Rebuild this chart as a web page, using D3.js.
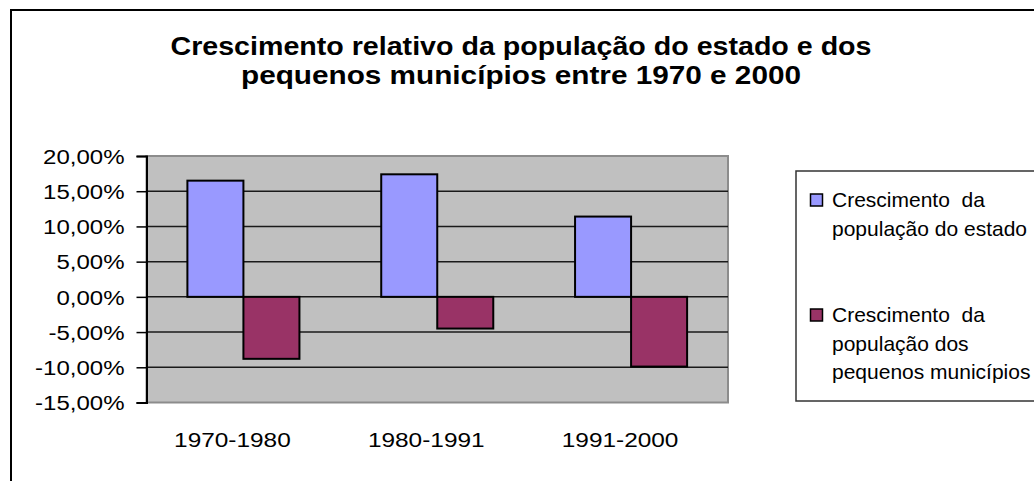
<!DOCTYPE html>
<html>
<head>
<meta charset="utf-8">
<script src="https://cdn.jsdelivr.net/npm/d3@7"></script>
<style>
  html, body { margin: 0; padding: 0; background: #fff; }
  svg { display: block; font-family: "Liberation Sans", Arial, sans-serif; }
  .legend text { white-space: pre; }
</style>
</head>
<body>
<svg id="chart" width="1034" height="481"></svg>
<script>
const categories = ['1970-1980', '1980-1991', '1991-2000'];
const seriesNames = [
  ['Crescimento  da', 'população do estado'],
  ['Crescimento  da', 'população dos', 'pequenos municípios']
];
const stateGrowth = [0.165, 0.174, 0.114];
const smallTownGrowth = [-0.088, -0.045, -0.099];
const yTicks = [-0.15, -0.10, -0.05, 0, 0.05, 0.10, 0.15, 0.20];
const titleLines = [
  'Crescimento relativo da população do estado e dos',
  'pequenos municípios entre 1970 e 2000'
];

const colors = ['#9999ff', '#993366'];
const [plotL, plotR, plotT, plotB] = [146.5, 728, 156, 402.5];

const ptBR = d3.formatLocale({
  decimal: ',', thousands: '.', grouping: [3], currency: ['R$', ''], minus: '-'
});
const pct = ptBR.format('.2%');

// stretch text horizontally, the way the original export did
let stretch = (sel, k) => sel.each(function() {
  const w = this.getComputedTextLength();
  d3.select(this)
      .attr('textLength', w * k)
      .attr('lengthAdjust', 'spacingAndGlyphs');
});

const svg = d3.select('#chart');

// outer chart frame
svg.append('rect')
    .attr('x', 11).attr('y', 10)
    .attr('width', 1200).attr('height', 600)
    .attr('fill', '#fff')
    .attr('stroke', '#000')
    .attr('stroke-width', 2);

// title
svg.append('g')
    .attr('class', 'title')
  .selectAll('text')
  .data(titleLines)
  .join('text')
    .attr('x', 521)
    .attr('y', (d, i) => 55 + i * 28.5)
    .attr('text-anchor', 'middle')
    .attr('font-size', 26)
    .attr('font-weight', 'bold')
    .attr('fill', '#000')
    .attr('textLength', (d, i) => [701, 560][i])
    .attr('lengthAdjust', 'spacingAndGlyphs')
    .text(d => d);

const y = d3.scaleLinear()
    .domain([yTicks[0], yTicks[yTicks.length - 1]])
    .range([plotB, plotT]);

const x0 = d3.scaleBand()
    .domain(categories)
    .range([plotL, plotR])
    .padding(0);

const series = [stateGrowth, smallTownGrowth];
const x1 = d3.scaleBand()
    .domain(d3.range(series.length))
    .range([0, x0.bandwidth()])
    .paddingInner(0)
    .paddingOuter(0.73);

// plot background
svg.append('rect')
    .attr('x', plotL).attr('y', plotT)
    .attr('width', plotR - plotL).attr('height', plotB - plotT)
    .attr('fill', '#c0c0c0')
    .attr('stroke', '#8c8c8c')
    .attr('stroke-width', 2);

// gridlines
svg.append('g')
    .attr('class', 'grid')
  .selectAll('line')
  .data(yTicks.slice(1, -1))
  .join('line')
    .attr('x1', plotL).attr('x2', plotR)
    .attr('y1', d => y(d)).attr('y2', d => y(d))
    .attr('stroke', '#1a1a1a')
    .attr('stroke-width', 1.5);

// bars
const groups = svg.append('g')
    .attr('class', 'bars')
  .selectAll('g')
  .data(series)
  .join('g')
    .attr('fill', (d, i) => colors[i]);

groups.selectAll('rect')
  .data((vals, s) => vals.map((v, i) => ({v, i, s})))
  .join('rect')
    .attr('x', d => x0(categories[d.i]) + x1(d.s))
    .attr('width', x1.bandwidth())
    .attr('y', d => y(Math.max(0, d.v)))
    .attr('height', d => Math.abs(y(d.v) - y(0)))
    .attr('stroke', '#000')
    .attr('stroke-width', 2);

// y axis
const yAxis = svg.append('g')
    .attr('class', 'y-axis')
    .attr('transform', `translate(${plotL},0)`)
    .call(d3.axisLeft(y)
        .tickValues(yTicks)
        .tickSize(10)
        .tickPadding(12)
        .tickFormat(pct));

yAxis.select('.domain')
    .attr('stroke', '#000')
    .attr('stroke-width', 2);
yAxis.selectAll('.tick line')
    .attr('stroke', '#000')
    .attr('stroke-width', 1.5);
yAxis.selectAll('.tick text')
    .attr('font-size', 20)
    .attr('font-family', '"Liberation Sans", Arial, sans-serif')
    .attr('fill', '#000')
    .attr('dy', '0.36em')
    .call(stretch, 1.2);

// x labels (sit a little left of the band centre in the original)
const xAxis = svg.append('g')
    .attr('class', 'x-axis')
    .attr('transform', `translate(-11,${plotB})`)
    .call(d3.axisBottom(x0)
        .tickSize(0)
        .tickPadding(30));

xAxis.select('.domain').remove();
xAxis.selectAll('.tick text')
    .attr('font-size', 20)
    .attr('font-family', '"Liberation Sans", Arial, sans-serif')
    .attr('fill', '#000')
    .call(stretch, 1.22);

// legend
const legend = svg.append('g')
    .attr('class', 'legend');

legend.append('rect')
    .attr('x', 796).attr('y', 171)
    .attr('width', 300).attr('height', 230)
    .attr('fill', '#fff')
    .attr('stroke', '#333')
    .attr('stroke-width', 1.5);

const item = legend.selectAll('g')
  .data(seriesNames)
  .join('g')
    .attr('transform', (d, i) => `translate(0,${[207, 322][i]})`);

item.append('rect')
    .attr('x', 810.5).attr('y', -13)
    .attr('width', 12).attr('height', 12)
    .attr('fill', (d, i) => colors[i])
    .attr('stroke', '#000')
    .attr('stroke-width', 1.5);

item.selectAll('text')
  .data(d => d)
  .join('text')
    .attr('x', 832)
    .attr('y', (d, i) => i * 28.7)
    .attr('font-size', 21)
    .attr('fill', '#000')
    .text(d => d);
</script>
</body>
</html>
